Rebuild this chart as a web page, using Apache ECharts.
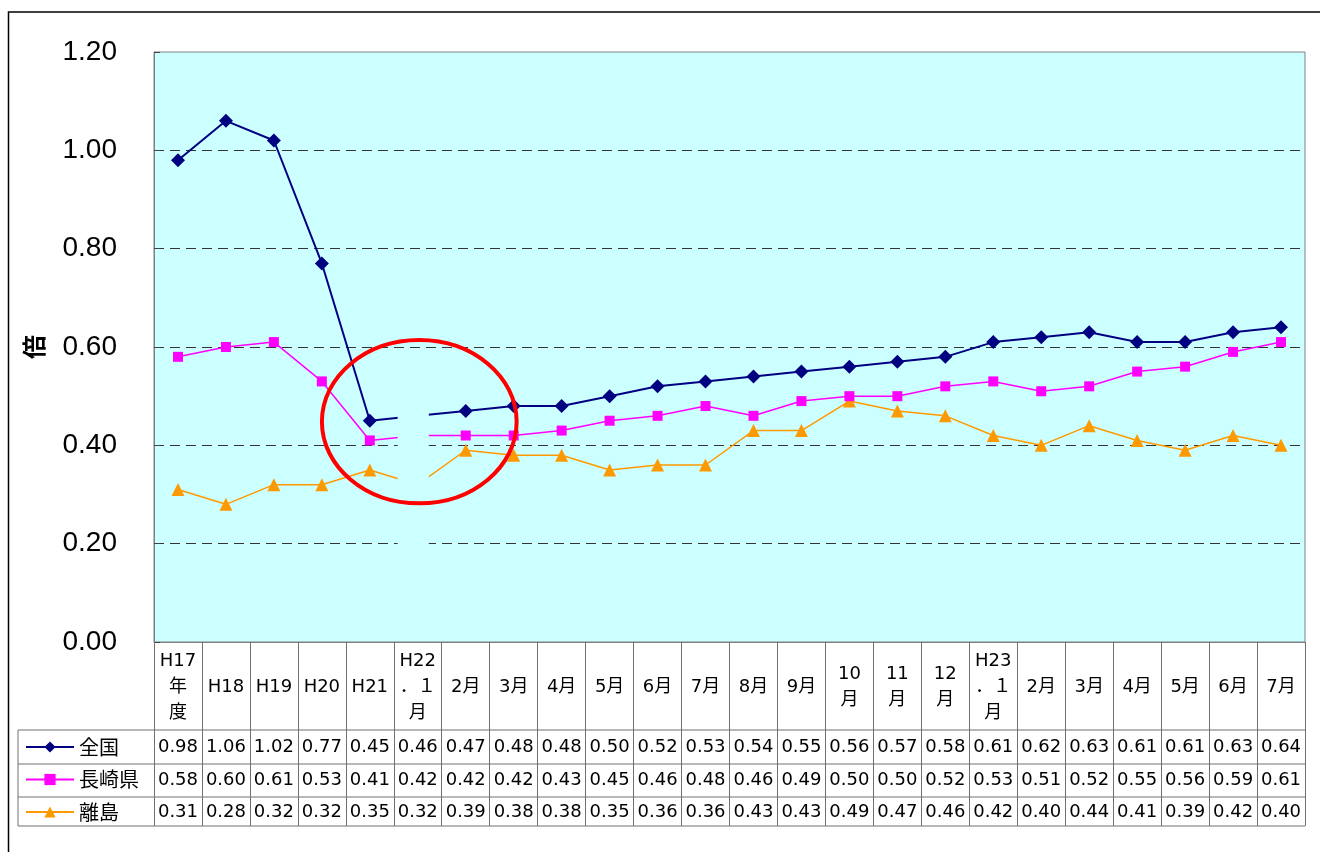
<!DOCTYPE html>
<html>
<head>
<meta charset="utf-8">
<script src="https://cdn.jsdelivr.net/npm/echarts@6/dist/echarts.min.js"></script>
<style>
html,body{margin:0;padding:0;background:#fff;}
#chart{width:1320px;height:852px;}
</style>
</head>
<body>
<div id="chart"></div>
<script>
const categories = ['H17\n年\n度','H18','H19','H20','H21','H22\n．１\n月','2月','3月','4月','5月','6月','7月','8月','9月','10\n月','11\n月','12\n月','H23\n．１\n月','2月','3月','4月','5月','6月','7月'];
const seriesNames = ['全国','長崎県','離島'];
const zenkoku = [0.98,1.06,1.02,0.77,0.45,0.46,0.47,0.48,0.48,0.50,0.52,0.53,0.54,0.55,0.56,0.57,0.58,0.61,0.62,0.63,0.61,0.61,0.63,0.64];
const nagasaki = [0.58,0.60,0.61,0.53,0.41,0.42,0.42,0.42,0.43,0.45,0.46,0.48,0.46,0.49,0.50,0.50,0.52,0.53,0.51,0.52,0.55,0.56,0.59,0.61];
const ritou = [0.31,0.28,0.32,0.32,0.35,0.32,0.39,0.38,0.38,0.35,0.36,0.36,0.43,0.43,0.49,0.47,0.46,0.42,0.40,0.44,0.41,0.39,0.42,0.40];
const yTicks = {min:0, max:1.2, interval:0.2};
const yName = '倍';

const chart = echarts.init(document.getElementById('chart'), null, {renderer:'canvas'});
const tableLine = '#707070';
const rowOffsets = [105, 138, 170];

function valueAxis(row, offset){
  return {
    type:'category', gridIndex:0, data:categories, position:'bottom', offset:offset,
    axisLine:{show:false}, axisTick:{show:false}, splitLine:{show:false},
    axisLabel:{interval:0, margin:0, verticalAlign:'middle', align:'center',
      fontFamily:'DejaVu Sans', fontSize:18, color:'#000',
      formatter:function(v,i){ return row[i].toFixed(2); }}
  };
}

const option = {
  animation:false,
  backgroundColor:'#fff',
  grid:{left:154, right:15, top:52, bottom:210, show:true, backgroundColor:'#ccffff', borderColor:'#808080', borderWidth:1},
  legend:{
    orient:'vertical', left:25, top:737, padding:0, itemGap:12.5, itemWidth:48, itemHeight:14,
    textStyle:{fontSize:20, lineHeight:20, color:'#000', fontFamily:"'Noto Sans CJK JP'"},
    data:seriesNames
  },
  xAxis:[
    {
      type:'category', gridIndex:0, data:categories, boundaryGap:true, position:'bottom',
      axisLine:{show:true, lineStyle:{color:'#808080', width:1}},
      axisTick:{show:true, length:184, interval:0, lineStyle:{color:tableLine, width:1}},
      splitLine:{show:false},
      axisLabel:{interval:0, margin:45, verticalAlign:'middle', align:'center', lineHeight:26,
        fontFamily:"'DejaVu Sans','Noto Sans CJK JP'", fontSize:18, color:'#000'}
    },
    valueAxis(zenkoku, rowOffsets[0]),
    valueAxis(nagasaki, rowOffsets[1]),
    valueAxis(ritou, rowOffsets[2])
  ],
  yAxis:{
    type:'value', min:yTicks.min, max:yTicks.max, interval:yTicks.interval,
    name:yName, nameLocation:'middle', nameGap:108, nameRotate:90,
    nameTextStyle:{fontSize:24, fontWeight:'bold', color:'#000', fontFamily:"'Noto Sans CJK JP'"},
    axisLine:{show:true, lineStyle:{color:'#808080', width:1}},
    axisTick:{show:true, inside:true, length:6, lineStyle:{color:'#444'}},
    axisLabel:{margin:37, fontSize:28, color:'#000', fontFamily:"'Liberation Sans'",
      formatter:function(v){ return v.toFixed(2); }},
    splitLine:{show:true, showMinLine:false, showMaxLine:false, lineStyle:{color:'#333', type:[10,6], width:1.2}}
  },
  series:[
    {name:seriesNames[0], type:'line', data:zenkoku, symbol:'diamond', symbolSize:14,
      itemStyle:{color:'#000080'}, lineStyle:{color:'#000080', width:2}, z:4},
    {name:seriesNames[1], type:'line', data:nagasaki, symbol:'rect', symbolSize:10,
      itemStyle:{color:'#ff00ff'}, lineStyle:{color:'#ff00ff', width:1.5}, z:3},
    {name:seriesNames[2], type:'line', data:ritou, symbol:'triangle', symbolSize:13,
      itemStyle:{color:'#ff9900'}, lineStyle:{color:'#ff9900', width:1.5}, z:2}
  ]
};
chart.setOption(option);

// table frame + annotation built from the chart's scales
const p0 = chart.convertToPixel({xAxisIndex:0, yAxisIndex:0}, [0, 0]);
const p1 = chart.convertToPixel({xAxisIndex:0, yAxisIndex:0}, [1, 0]);
const cw = p1[0] - p0[0];
const plotLeft = p0[0] - cw/2;
const plotRight = plotLeft + cw*categories.length;
const tableLeft = 18;
const hLines = [730, 764, 797, 826];
const g = [];
hLines.forEach(function(y){
  g.push({type:'line', shape:{x1:tableLeft, y1:y, x2:plotRight, y2:y}, style:{stroke:tableLine, lineWidth:1}, z:1});
});
g.push({type:'line', shape:{x1:tableLeft, y1:hLines[0], x2:tableLeft, y2:hLines[3]}, style:{stroke:tableLine, lineWidth:1}, z:1});
// outer frame
g.push({type:'rect', shape:{x:8.5, y:12, width:1400, height:900}, style:{fill:null, stroke:'#000', lineWidth:1.5}, z:0});
// blanked strip in the H22.1 column
const sc = chart.convertToPixel({xAxisIndex:0, yAxisIndex:0}, [5, 0.56]);
const sb = chart.convertToPixel({xAxisIndex:0, yAxisIndex:0}, [5, 0.004]);
g.push({type:'rect', shape:{x:sc[0]-0.42*cw, y:sc[1], width:0.65*cw, height:sb[1]-sc[1]}, style:{fill:'#ccffff'}, z:10});
// red ellipse annotation
const ec = chart.convertToPixel({xAxisIndex:0, yAxisIndex:0}, [5, 0.448]);
const ey = chart.convertToPixel({xAxisIndex:0, yAxisIndex:0}, [5, 0.448+0.166]);
g.push({type:'ellipse', shape:{cx:ec[0]+1.5, cy:ec[1], rx:2.03*cw, ry:ec[1]-ey[1]}, style:{fill:null, stroke:'#ff0000', lineWidth:4}, z:11});
chart.setOption({graphic:g});
</script>
</body>
</html>
